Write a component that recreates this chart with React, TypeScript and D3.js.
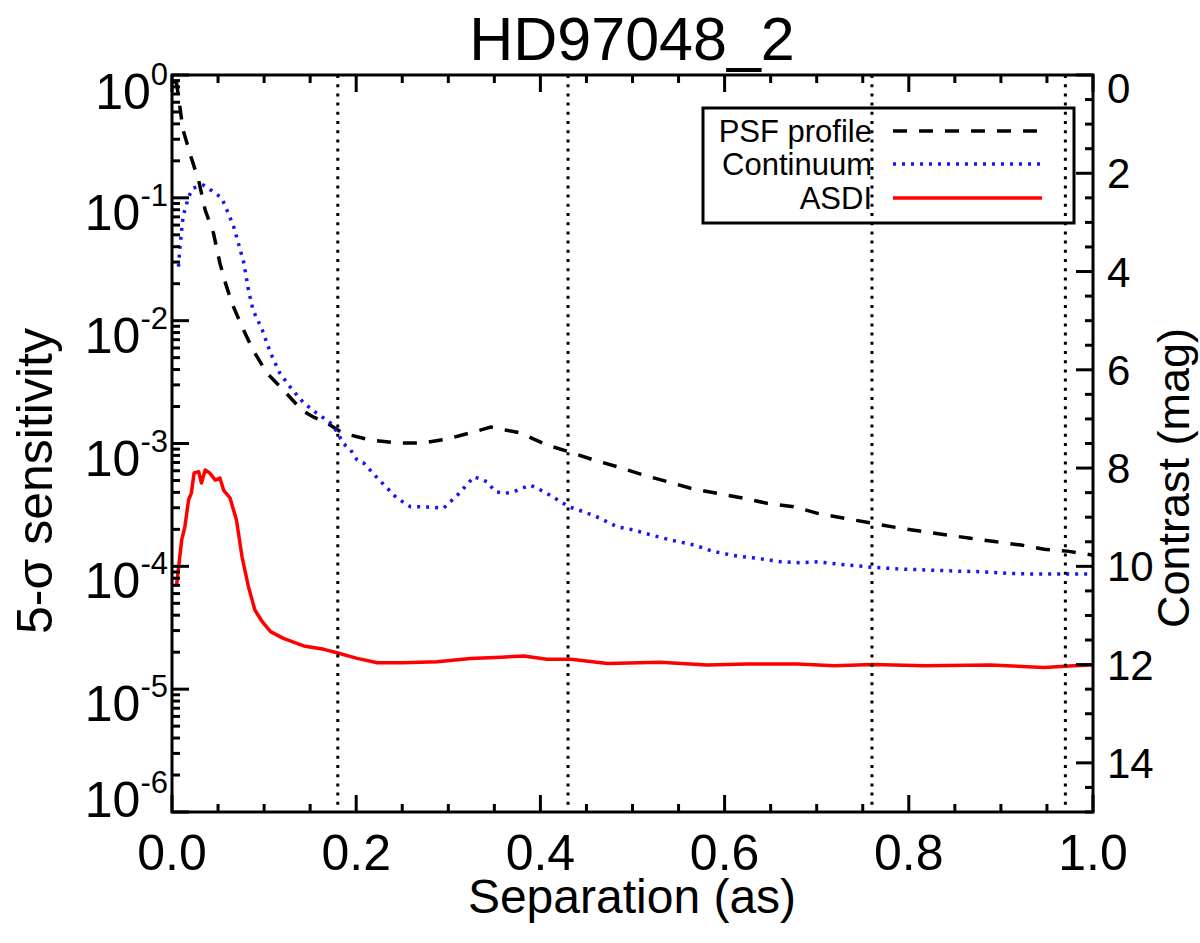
import React, { useEffect, useRef } from 'react';
import * as d3 from 'd3';

// PSF profile (black dashed)
const psfSep = [0.002, 0.005, 0.012, 0.021, 0.029, 0.036, 0.045, 0.052, 0.058, 0.065, 0.076, 0.088, 0.103, 0.121, 0.141, 0.153, 0.168, 0.183, 0.194, 0.215, 0.244, 0.273, 0.299, 0.324, 0.346, 0.378, 0.407, 0.431, 0.458, 0.483, 0.512, 0.538, 0.563, 0.592, 0.621, 0.646, 0.675, 0.701, 0.730, 0.761, 0.791, 0.817, 0.842, 0.867, 0.893, 0.922, 0.947, 0.972, 0.998, 1.0];
const psfValue = [0.89, 0.856, 0.357, 0.211, 0.138, 0.0796, 0.0517, 0.0295, 0.0203, 0.0139, 0.00893, 0.00577, 0.00375, 0.00272, 0.00187, 0.00165, 0.00147, 0.00125, 0.00117, 0.00107, 0.00101, 0.00101, 0.00109, 0.00122, 0.00136, 0.00122, 0.000972, 0.000857, 0.000734, 0.000648, 0.000554, 0.000489, 0.000432, 0.000393, 0.000358, 0.000326, 0.000306, 0.00027, 0.000246, 0.000224, 0.000204, 0.000191, 0.00018, 0.000169, 0.000159, 0.000149, 0.000138, 0.000133, 0.000124, 0.000123];

// Continuum (blue dotted)
const contSep = [0.007, 0.009, 0.012, 0.018, 0.023, 0.034, 0.045, 0.054, 0.061, 0.067, 0.072, 0.078, 0.083, 0.088, 0.098, 0.107, 0.117, 0.128, 0.143, 0.157, 0.172, 0.179, 0.186, 0.194, 0.201, 0.208, 0.223, 0.244, 0.259, 0.277, 0.295, 0.310, 0.328, 0.342, 0.351, 0.362, 0.371, 0.389, 0.404, 0.422, 0.431, 0.447, 0.465, 0.483, 0.501, 0.520, 0.541, 0.567, 0.588, 0.614, 0.636, 0.661, 0.681, 0.701, 0.730, 0.761, 0.791, 0.820, 0.849, 0.878, 0.907, 0.936, 0.972, 1.0];
const contValue = [0.0275, 0.0429, 0.0702, 0.102, 0.12, 0.127, 0.112, 0.0997, 0.0752, 0.0582, 0.0429, 0.0295, 0.0178, 0.0122, 0.00839, 0.00545, 0.00375, 0.0029, 0.00214, 0.00177, 0.00147, 0.00125, 0.001, 0.000885, 0.000734, 0.000694, 0.000524, 0.00036, 0.000306, 0.000304, 0.000298, 0.000381, 0.000537, 0.000489, 0.000405, 0.000393, 0.000405, 0.000459, 0.000405, 0.000336, 0.000306, 0.000278, 0.000246, 0.00021, 0.000198, 0.00018, 0.000164, 0.000149, 0.000132, 0.000121, 0.000116, 0.000109, 0.000107, 0.000109, 0.000103, 0.0000982, 0.0000951, 0.0000933, 0.0000916, 0.0000904, 0.0000877, 0.0000866, 0.0000866, 0.0000866];

// ASDI (red solid)
const asdiSep = [0.005, 0.0105, 0.014, 0.018, 0.021, 0.024, 0.029, 0.032, 0.036, 0.041, 0.047, 0.052, 0.056, 0.063, 0.070, 0.076, 0.083, 0.090, 0.098, 0.107, 0.121, 0.143, 0.165, 0.179, 0.201, 0.223, 0.251, 0.288, 0.324, 0.357, 0.382, 0.407, 0.433, 0.473, 0.530, 0.581, 0.625, 0.679, 0.719, 0.761, 0.817, 0.889, 0.947, 0.979, 1.0];
const asdiValue = [0.0000705, 0.000164, 0.00021, 0.000347, 0.000395, 0.000575, 0.000589, 0.000477, 0.000608, 0.000575, 0.000504, 0.000524, 0.000418, 0.00036, 0.000238, 0.00012, 0.0000682, 0.0000441, 0.0000354, 0.0000294, 0.0000259, 0.0000225, 0.0000211, 0.0000198, 0.0000178, 0.0000164, 0.0000164, 0.0000167, 0.0000178, 0.0000182, 0.0000186, 0.0000175, 0.0000175, 0.0000162, 0.0000166, 0.0000157, 0.000016, 0.000016, 0.0000155, 0.0000159, 0.0000155, 0.0000157, 0.000015, 0.0000155, 0.0000157];

const markerSeps = [0.18, 0.43, 0.76, 0.97];
const xTickLabels = ['0.0', '0.2', '0.4', '0.6', '0.8', '1.0'];
const yExponents = [0, -1, -2, -3, -4, -5, -6];
const magTicks = [0, 2, 4, 6, 8, 10, 12, 14];
const legendLabels = ['PSF profile', 'Continuum', 'ASDI'];

const FONT = '"Liberation Sans", Arial, Helvetica, sans-serif';

const App = () => {
  const ref = useRef<SVGSVGElement | null>(null);

  useEffect(() => {
    if (!ref.current) return;
    const svg = d3.select(ref.current);
    svg.selectAll('*').remove();

    const x0 = 172, x1 = 1093, y0 = 75, y1 = 812;
    const x = d3.scaleLinear().domain([0, 1]).range([x0, x1]);
    const y = d3.scaleLog().domain([1e-6, 1]).range([y1, y0]);
    const mag = d3.scaleLinear().domain([0, 15]).range([y0, y1]);

    svg.append('rect').attr('width', 1200).attr('height', 943).attr('fill', '#fff');

    svg.append('defs').append('clipPath').attr('id', 'plot-clip')
      .append('rect').attr('x', x0).attr('y', y0).attr('width', x1 - x0).attr('height', y1 - y0);

    // title
    svg.append('text')
      .attr('x', 632).attr('y', 60)
      .attr('text-anchor', 'middle')
      .attr('font-family', FONT).attr('font-size', 61)
      .text('HD97048_2');

    // legend box
    const lg = svg.append('g');
    lg.append('rect')
      .attr('x', 703).attr('y', 108).attr('width', 371).attr('height', 115)
      .attr('fill', '#fff').attr('stroke', '#000').attr('stroke-width', 3);
    const legendStyles = [
      { stroke: '#000', dash: '14 12' },
      { stroke: '#1515f5', dash: '3 6' },
      { stroke: '#ff0000', dash: null },
    ];
    const rowY = [131, 164, 198];
    legendLabels.forEach((lab, i) => {
      lg.append('text')
        .attr('x', 872).attr('y', rowY[i] + 11)
        .attr('text-anchor', 'end')
        .attr('font-family', FONT).attr('font-size', 31)
        .text(lab);
      lg.append('line')
        .attr('x1', 893).attr('x2', 1042).attr('y1', rowY[i]).attr('y2', rowY[i])
        .attr('stroke', legendStyles[i].stroke)
        .attr('stroke-width', 3.5)
        .attr('stroke-dasharray', legendStyles[i].dash);
    });

    // curves
    const line = d3.line<[number, number]>()
      .x((d) => x(d[0]))
      .y((d) => y(d[1]));
    const curves = svg.append('g').attr('clip-path', 'url(#plot-clip)');

    curves.append('path')
      .attr('d', line(psfSep.map((s, i) => [s, psfValue[i]])))
      .attr('fill', 'none').attr('stroke', '#000')
      .attr('stroke-width', 3.5).attr('stroke-dasharray', '14 12');

    curves.append('path')
      .attr('d', line(contSep.map((s, i) => [s, contValue[i]])))
      .attr('fill', 'none').attr('stroke', '#1515f5')
      .attr('stroke-width', 3.5).attr('stroke-dasharray', '3 6');

    curves.append('path')
      .attr('d', line(asdiSep.map((s, i) => [s, asdiValue[i]])))
      .attr('fill', 'none').attr('stroke', '#ff0000')
      .attr('stroke-width', 3.5).attr('stroke-linejoin', 'round');

    // vertical dotted markers
    svg.append('g').selectAll('line')
      .data(markerSeps)
      .enter()
      .append('line')
      .attr('x1', (d) => x(d)).attr('x2', (d) => x(d))
      .attr('y1', y0).attr('y2', y1)
      .attr('stroke', '#000').attr('stroke-width', 3)
      .attr('stroke-dasharray', '3 6.2');

    // frame + ticks
    const ax = svg.append('g').attr('stroke', '#000').attr('stroke-width', 3);
    ax.append('rect')
      .attr('x', x0).attr('y', y0).attr('width', x1 - x0).attr('height', y1 - y0)
      .attr('fill', 'none');

    d3.range(0, 21).forEach((k) => {
      const xv = x(k * 0.05);
      const len = k % 4 === 0 ? 17 : 8;
      ax.append('line').attr('x1', xv).attr('x2', xv).attr('y1', y1).attr('y2', y1 - len);
      ax.append('line').attr('x1', xv).attr('x2', xv).attr('y1', y0).attr('y2', y0 + len);
    });

    for (let e = -6; e <= 0; e++) {
      const top = e === 0 ? 1 : 9;
      for (let k = 1; k <= top; k++) {
        const yv = y(k * Math.pow(10, e));
        const len = k === 1 ? 17 : 8;
        ax.append('line').attr('x1', x0).attr('x2', x0 + len).attr('y1', yv).attr('y2', yv);
      }
    }

    d3.range(0, 31).forEach((k) => {
      const yv = mag(k * 0.5);
      const len = k % 4 === 0 ? 17 : 8;
      ax.append('line').attr('x1', x1).attr('x2', x1 - len).attr('y1', yv).attr('y2', yv);
    });

    // x tick labels
    svg.append('g').selectAll('text')
      .data(xTickLabels)
      .enter()
      .append('text')
      .attr('x', (d) => x(+d)).attr('y', 870)
      .attr('text-anchor', 'middle')
      .attr('font-family', FONT).attr('font-size', 50)
      .text((d) => d);

    // left log labels
    const yl = svg.append('g').attr('font-family', FONT);
    yExponents.forEach((e) => {
      const yv = Math.max(77, Math.min(785, y(Math.pow(10, e))));
      const t = yl.append('text')
        .attr('x', 168).attr('y', yv + 32)
        .attr('text-anchor', 'end')
        .attr('font-size', 50);
      t.append('tspan').text('10');
      t.append('tspan').attr('dy', -24).attr('font-size', 31).text(String(e));
    });

    // right contrast labels
    svg.append('g').selectAll('text')
      .data(magTicks)
      .enter()
      .append('text')
      .attr('x', 1107)
      .attr('y', (d) => Math.max(88, mag(d)) + 15)
      .attr('font-family', FONT).attr('font-size', 42)
      .text((d) => d);

    // axis titles
    svg.append('text')
      .attr('x', 632).attr('y', 913)
      .attr('text-anchor', 'middle')
      .attr('font-family', FONT).attr('font-size', 48)
      .text('Separation (as)');

    svg.append('text')
      .attr('transform', 'translate(52,481) rotate(-90)')
      .attr('text-anchor', 'middle')
      .attr('font-family', FONT).attr('font-size', 50)
      .text('5-σ sensitivity');

    svg.append('text')
      .attr('transform', 'translate(1189,478) rotate(-90)')
      .attr('text-anchor', 'middle')
      .attr('font-family', FONT).attr('font-size', 45)
      .text('Contrast (mag)');
  }, []);

  return (
    <svg
      ref={ref}
      width={1200}
      height={943}
      style={{ position: 'absolute', left: 0, top: 0 }}
    />
  );
};

export default App;
